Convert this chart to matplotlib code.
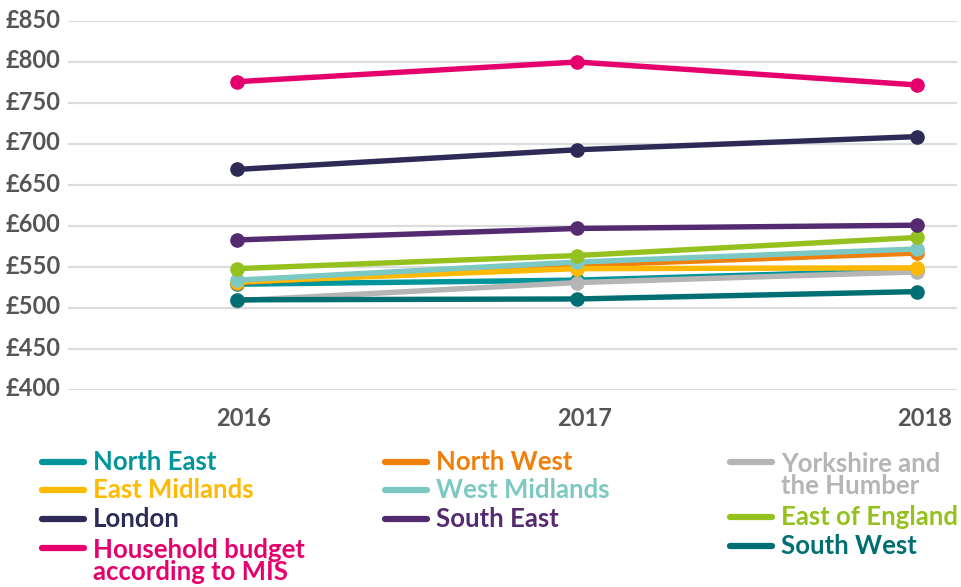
import matplotlib.pyplot as plt
import matplotlib.transforms as mtransforms
from matplotlib.lines import Line2D

plt.rcParams['font.family'] = ['Lato', 'DejaVu Sans']

years = [2016, 2017, 2018]

north_east = [529, 534, 546]
north_west = [531, 552, 567]
yorkshire = [509, 531, 544]
east_midlands = [532, 548, 549]
west_midlands = [534, 556, 572]
east_of_england = [548, 564, 586]
london = [669, 693, 709]
south_east = [583, 597, 601]
mis_budget = [776, 800, 772]
south_west = [510, 511, 520]

series = [
    ("North East", north_east, "#00959b"),
    ("North West", north_west, "#f07f0b"),
    ("Yorkshire and\nthe Humber", yorkshire, "#b5b5b5"),
    ("East Midlands", east_midlands, "#ffb900"),
    ("West Midlands", west_midlands, "#7cc9c4"),
    ("East of England", east_of_england, "#95c11f"),
    ("London", london, "#2d2b55"),
    ("South East", south_east, "#542a70"),
    ("Household budget\naccording to MIS", mis_budget, "#e5006d"),
    ("South West", south_west, "#006f74"),
]

W, H = 962, 587
fig = plt.figure(figsize=(W / 100, H / 100), dpi=100)
ax = fig.add_axes([68 / W, 1 - 390 / H, (957 - 68) / W, (390 - 21) / H])

for name, vals, col in series:
    ax.plot(years, vals, color=col, linewidth=3.9, marker='o', markersize=9.5,
            solid_capstyle='round', clip_on=False, zorder=3)

ax.set_ylim(400, 850)
ax.set_xlim(2015.503, 2018.117)
ax.set_yticks(range(400, 851, 50))
ax.set_yticklabels(["£%d" % v for v in range(400, 851, 50)])
ax.set_xticks(years)
ax.set_xticklabels([str(y) for y in years])
ax.grid(axis='y', color='#dddddd', linewidth=1.6, zorder=0)
for s in ax.spines.values():
    s.set_visible(False)
ax.tick_params(length=0, labelcolor='#555555', labelsize=17)
ax.tick_params(axis='x', pad=12)
shift_x = mtransforms.ScaledTranslation(7 / 100, 0, fig.dpi_scale_trans)
shift_y = mtransforms.ScaledTranslation(0, 3 / 100, fig.dpi_scale_trans)
for lab in ax.get_xticklabels():
    lab.set_fontweight('bold')
    lab.set_transform(lab.get_transform() + shift_x)
for lab in ax.get_yticklabels():
    lab.set_fontweight('bold')
    lab.set_horizontalalignment('left')
    lab.set_x(-(68 - 10) / (957 - 68))
    lab.set_transform(lab.get_transform() + shift_y)

# legend drawn by hand in three columns
legend_pos = [
    (42, 462), (385, 462), (730, 462),
    (42, 490), (385, 490), (730, 517),
    (42, 519), (385, 519), (42, 548), (730, 546),
]
for (name, vals, col), (lx, ly) in zip(series, legend_pos):
    fig.add_artist(Line2D([lx / W, (lx + 42) / W], [1 - ly / H, 1 - ly / H],
                          color=col, linewidth=4.5, solid_capstyle='round'))
    extra = 24 * name.count("\n")
    fig.text((lx + 51) / W, 1 - (ly + 8 + extra) / H, name, color=col, fontsize=18.5,
             fontweight='bold', va='baseline', ha='left', linespacing=0.92)

fig.savefig("out.png", dpi=100)
